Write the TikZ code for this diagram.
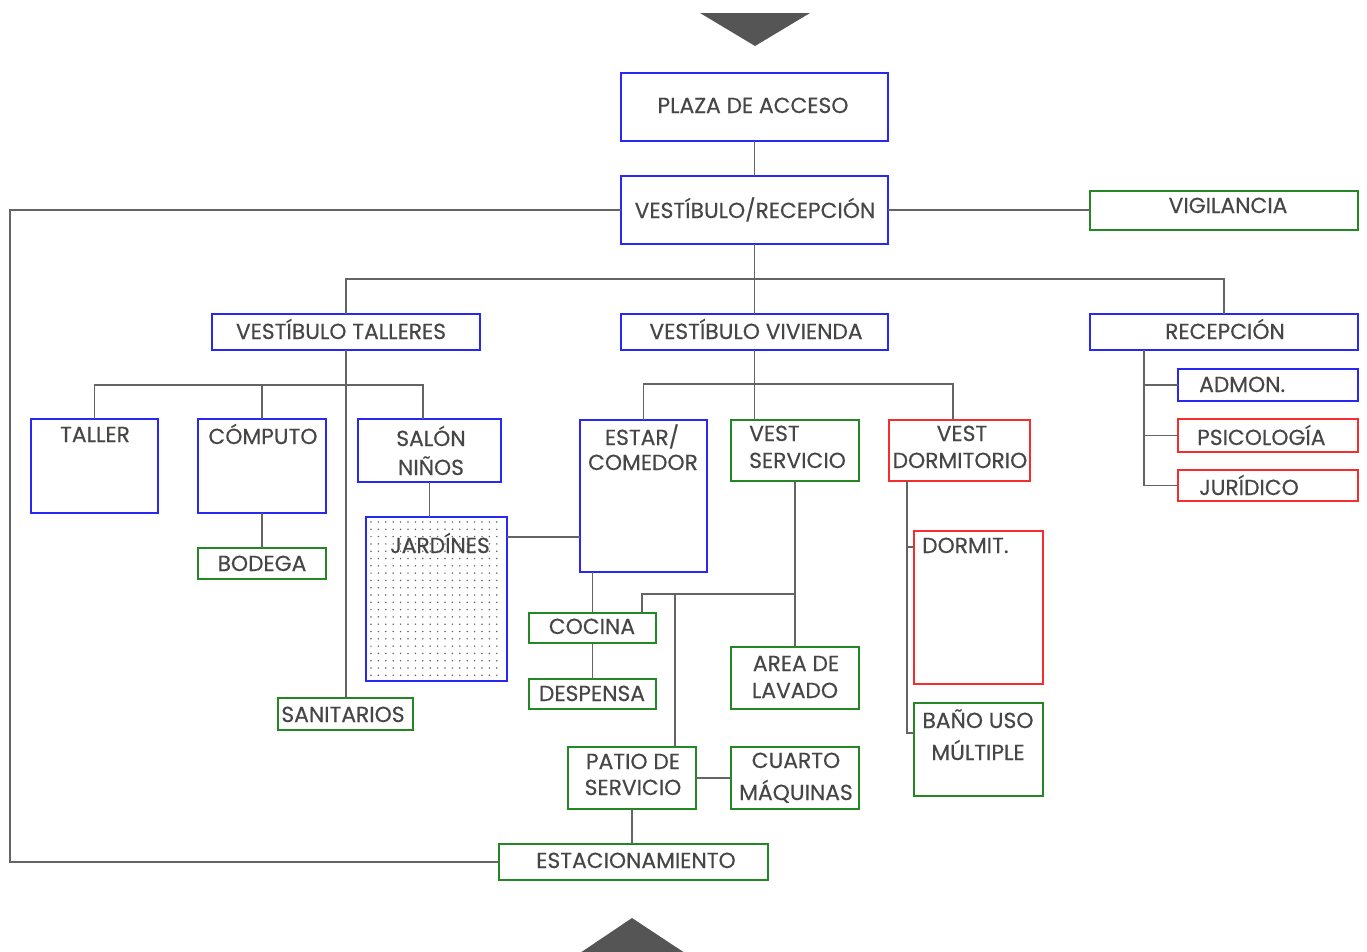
\documentclass[tikz,border=0pt]{standalone}
\usepackage{fontspec}
\setmainfont{Poppins}
\newfontfamily\diafont{Poppins}[FakeBold=0.35]
\usetikzlibrary{fit}
\definecolor{bblue}{RGB}{40,40,245}
\definecolor{bgreen}{RGB}{35,135,35}
\definecolor{bred}{RGB}{245,45,45}
\definecolor{lgray}{RGB}{100,100,100}
\definecolor{tgray}{RGB}{70,70,70}
\definecolor{trigray}{RGB}{85,85,85}
\tikzset{
  ln/.style={draw=lgray, line width=1.7pt},
  bx/.style={draw, line width=1.8pt, inner sep=0pt, outer sep=0pt},
  bb/.style={bx, draw=bblue},
  bg/.style={bx, draw=bgreen},
  br/.style={bx, draw=bred},
  tx/.style={inner sep=0pt, text=tgray, font=\diafont\fontsize{21.8}{25}\selectfont, anchor=base},
  txl/.style={tx, anchor=base west},
}
\begin{document}
\begin{tikzpicture}[x=1pt,y=-1pt]
\useasboundingbox (0,0) rectangle (1367,951);
\fill[white] (0,0) rectangle (1367,951);
% triangles
\fill[trigray] (700,13) -- (810,13) -- (755,46) -- cycle;
\fill[trigray] (577,955) -- (632,918) -- (688,955) -- cycle;

% boxes
\node[bb, fit={(621,73)(888,141)}] (plaza) {};
\node[bb, fit={(621,176)(888,244)}] (vest) {};
\node[bg, fit={(1090,191)(1358,230)}] (vig) {};
\node[bb, fit={(212,314)(480,350)}] (vtal) {};
\node[bb, fit={(621,314)(888,350)}] (vviv) {};
\node[bb, fit={(1090,314)(1358,350)}] (recep) {};
\node[bb, fit={(31,419)(158,513)}] (taller) {};
\node[bb, fit={(198,419)(326,513)}] (comp) {};
\node[bb, fit={(358,419)(501,482)}] (salon) {};
\node[bg, fit={(198,548)(326,579)}] (bodega) {};
\node[bb, fit={(366,517)(507,681)}] (jard) {};
\node[bg, fit={(278,698)(413,730)}] (sanit) {};
\node[bb, fit={(580,420)(707,572)}] (estar) {};
\node[bg, fit={(731,420)(859,481)}] (vserv) {};
\node[br, fit={(889,420)(1030,481)}] (vdorm) {};
\node[bg, fit={(529,613)(656,643)}] (cocina) {};
\node[bg, fit={(529,679)(656,709)}] (desp) {};
\node[bg, fit={(731,647)(859,709)}] (lavado) {};
\node[bg, fit={(568,747)(696,809)}] (patio) {};
\node[bg, fit={(731,747)(859,809)}] (cuarto) {};
\node[bg, fit={(499,844)(768,880)}] (estac) {};
\node[br, fit={(914,531)(1043,684)}] (dormit) {};
\node[bg, fit={(914,703)(1043,796)}] (banio) {};
\node[bb, fit={(1178,369)(1358,401)}] (admon) {};
\node[br, fit={(1178,419)(1358,452)}] (psico) {};
\node[br, fit={(1178,470)(1358,501)}] (jur) {};

% dots in jardines
\foreach \x in {371,378.4,...,503} {
  \foreach \y in {522,529.3,...,678} {
    \fill[lgray] (\x,\y) circle (0.85pt);
  }
}

% texts
\node[tx] (t1) at (753,113) {PLAZA DE ACCESO};
\node[tx] (t2) at (755,218) {VESTÍBULO/RECEPCIÓN};
\node[tx] (t3) at (1228,213) {VIGILANCIA};
\node[tx] (t4) at (341,339) {VESTÍBULO TALLERES};
\node[tx] (t5) at (756,339) {VESTÍBULO VIVIENDA};
\node[tx] (t6) at (1225,339) {RECEPCIÓN};
\node[tx] (t7) at (95,442) {TALLER};
\node[tx] (t8) at (263,444) {CÓMPUTO};
\node[tx] (t9a) at (431,446) {SALÓN};
\node[tx] (t9b) at (431,475) {NIÑOS};
\node[tx] (t10) at (440,553) {JARDÍNES};
\node[tx] (t11) at (262,571) {BODEGA};
\node[tx] (t12) at (343,722) {SANITARIOS};
\node[tx] (t13a) at (642,445) {ESTAR/};
\node[tx] (t13b) at (643,470) {COMEDOR};
\node[txl] (t14a) at (749,441) {VEST};
\node[txl] (t14b) at (749,468) {SERVICIO};
\node[tx] (t15a) at (962,441) {VEST};
\node[tx] (t15b) at (960,468) {DORMITORIO};
\node[tx] (t16) at (592,634) {COCINA};
\node[tx] (t17) at (592,701) {DESPENSA};
\node[tx] (t18a) at (796,671) {AREA DE};
\node[tx] (t18b) at (795,698) {LAVADO};
\node[tx] (t19a) at (633,769) {PATIO DE};
\node[tx] (t19b) at (633,795) {SERVICIO};
\node[tx] (t20a) at (796,768) {CUARTO};
\node[tx] (t20b) at (796,800) {MÁQUINAS};
\node[txl] (t21) at (922,553) {DORMIT.};
\node[tx] (t22a) at (978,728) {BAÑO USO};
\node[tx] (t22b) at (978,760) {MÚLTIPLE};
\node[txl] (t23) at (1199,392) {ADMON.};
\node[txl] (t24) at (1197,445) {PSICOLOGÍA};
\node[txl] (t25) at (1199,495) {JURÍDICO};
\node[tx] (t26) at (636,868) {ESTACIONAMIENTO};

% helper coordinates
\coordinate (wall) at (10,210);
\coordinate (busy) at (0,279);
\coordinate (tb) at (423,385);
\coordinate (jy) at (0,537);
\coordinate (vbr) at (953,384);
\coordinate (sc) at (642,594);
\coordinate (sp) at (675,594);
\coordinate (dx) at (907,0);
\coordinate (dy1) at (0,547);
\coordinate (dy2) at (0,733);
\coordinate (rx) at (1144,0);

% connectors
\draw[ln] (plaza.south) -- (vest.north);
\draw[ln] (vest.west) -- (wall) |- (estac.west);
\draw[ln] (vest.east) -- (vest.east -| vig.west);
\draw[ln] (vest.south) -- (vviv.north);
\draw[ln] (vtal.north) |- (busy -| vest.south) -| (recep.north);
% talleres
\draw[ln] (vtal.south) -- (vtal.south |- sanit.north);
\draw[ln] (taller.north) |- (tb) -- (tb |- salon.north);
\draw[ln] (comp.north) -- (comp.north |- tb);
\draw[ln] (comp.south) -- (comp.south |- bodega.north);
\draw[ln] (salon.south) -- (salon.south |- jard.north);
\draw[ln] (jard.east |- jy) -- (estar.west |- jy);
% vivienda
\draw[ln] (vviv.south) -- (vviv.south |- vserv.north);
\draw[ln] (estar.north) |- (vbr) -- (vbr |- vdorm.north);
\draw[ln] (vserv.south) -- (lavado.north);
\draw[ln] (sc |- cocina.north) -- (sc) -- (sc -| vserv.south);
\draw[ln] (sp) -- (sp |- patio.north);
\draw[ln] (cocina.north) -- (cocina.north |- estar.south);
\draw[ln] (cocina.south) -- (cocina.south |- desp.north);
\draw[ln] (patio.east) -- (patio.east -| cuarto.west);
\draw[ln] (patio.south) -- (patio.south |- estac.north);
% dormitorio
\draw[ln] (dx |- vdorm.south) |- (dy2 -| banio.west);
\draw[ln] (dx |- dy1) -- (dy1 -| dormit.west);
% recepcion
\draw[ln] (rx |- recep.south) |- (jur.west);
\draw[ln] (rx |- admon.west) -- (admon.west);
\draw[ln] (rx |- psico.west) -- (psico.west);
\end{tikzpicture}
\end{document}
